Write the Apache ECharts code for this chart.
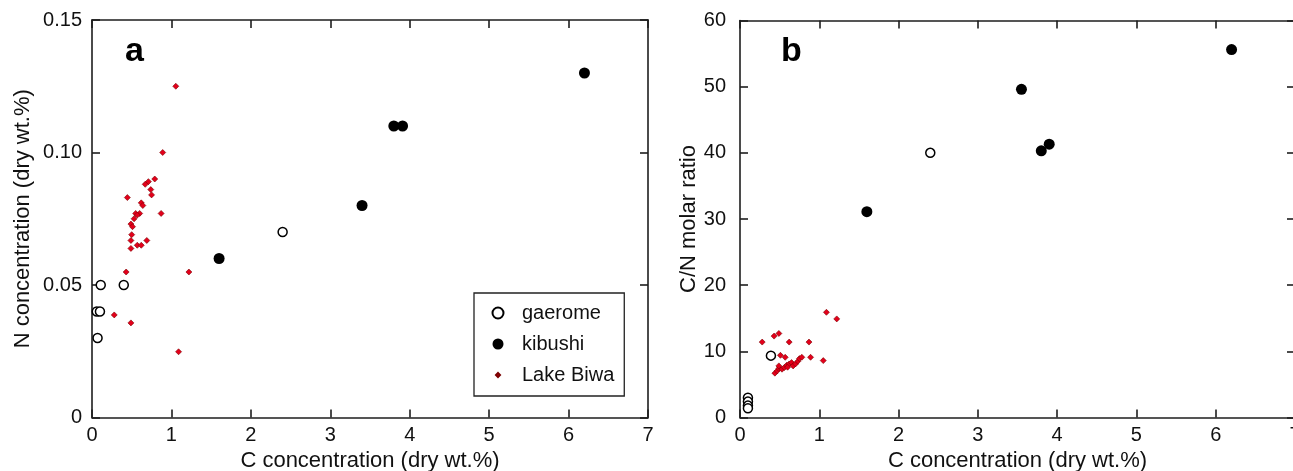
<!DOCTYPE html>
<html>
<head>
<meta charset="utf-8">
<script src="https://cdn.jsdelivr.net/npm/echarts@6/dist/echarts.min.js"></script>
<style>
html,body{margin:0;padding:0;background:#fff;}
#chart{width:1293px;height:471px;}
</style>
</head>
<body>
<div id="chart"></div>
<script>
// ---- Data (C concentration in dry wt.%) ----
// Panel a: N concentration (dry wt.%)
const gaeromeA = [[0.07,0.03],[0.06,0.04],[0.10,0.04],[0.11,0.05],[0.40,0.05],[2.40,0.07]];
const kibushiA = [[1.60,0.06],[3.40,0.08],[3.80,0.11],[3.91,0.11],[6.20,0.13]];
const biwaA = [
  [1.055,0.125],[0.89,0.100],[0.79,0.090],[0.71,0.089],[0.67,0.088],[0.74,0.086],
  [0.75,0.084],[0.445,0.083],[0.62,0.081],[0.64,0.080],[0.87,0.077],[0.60,0.077],
  [0.55,0.077],[0.57,0.0764],[0.53,0.075],[0.49,0.073],[0.51,0.072],[0.50,0.069],
  [0.49,0.0668],[0.69,0.0668],[0.57,0.065],[0.62,0.065],[0.49,0.0638],[0.43,0.0549],
  [1.22,0.0549],[0.28,0.0387],[0.49,0.0357],[1.09,0.0248]
];
// Panel b: C/N molar ratio
const gaeromeB = [[0.10,3.0],[0.10,2.4],[0.10,1.8],[0.10,1.4],[0.39,9.35],[2.40,40.0]];
const kibushiB = [[1.60,31.1],[3.55,49.6],[3.80,40.3],[3.90,41.3],[6.20,55.6]];
const biwaB = [
  [1.09,15.9],[1.22,14.9],[0.28,11.4],[0.43,12.3],[0.49,12.7],[0.62,11.4],[0.87,11.4],
  [0.89,9.1],[1.05,8.6],[0.51,9.4],[0.57,9.1],[0.44,6.7],[0.47,7.05],[0.49,7.4],
  [0.49,7.8],[0.53,7.3],[0.56,7.55],[0.59,7.9],[0.62,8.1],[0.65,8.3],[0.67,7.8],
  [0.70,8.1],[0.73,8.5],[0.75,8.9],[0.78,9.1],[0.60,7.6]
];
// Axis settings / labels
const xTitle = 'C concentration (dry wt.%)';
const yTitleA = 'N concentration (dry wt.%)';
const yTitleB = 'C/N molar ratio';
const panelLabels = ['a','b'];

const FONT = '"Liberation Sans", Arial, Helvetica, sans-serif';
const AX = '#1e1e1e';
const lineStyle = {color: AX, width: 1.6};

function xAx(grid, pos, showLabel) {
  return {
    gridIndex: grid, type: 'value', position: pos, min: 0, max: 7, interval: 1,
    axisLine: {show: true, onZero: false, lineStyle},
    axisTick: {show: true, inside: true, length: 8, lineStyle},
    axisLabel: {show: showLabel, fontSize: 20, color: '#111', fontFamily: FONT, margin: 8},
    splitLine: {show: false},
    name: showLabel ? xTitle : '', nameLocation: 'middle', nameGap: 30,
    nameTextStyle: {fontSize: 22, color: '#111', fontFamily: FONT}
  };
}
function yAx(grid, pos, showLabel, max, interval, fmt, title, gap, margin) {
  return {
    gridIndex: grid, type: 'value', position: pos, min: 0, max: max, interval: interval,
    axisLine: {show: true, onZero: false, lineStyle},
    axisTick: {show: true, inside: true, length: 8, lineStyle},
    axisLabel: {show: showLabel, fontSize: 20, color: '#111', fontFamily: FONT, margin: margin, formatter: fmt},
    splitLine: {show: false},
    name: showLabel ? title : '', nameLocation: 'middle', nameGap: gap, nameRotate: 90,
    nameTextStyle: {fontSize: 22, color: '#111', fontFamily: FONT}
  };
}
const fmtA = v => v === 0 ? '0' : v.toFixed(2);
const fmtB = v => String(Math.round(v));

const gaeromeStyle = {color: '#ffffff', borderColor: '#000', borderWidth: 1.5, opacity: 1};
const kibushiStyle = {color: '#000000', opacity: 1};
const biwaStyle = {color: '#e3001b', borderColor: '#7a0000', borderWidth: 0.6, opacity: 1};

function series(xi, yi, g, k, b) {
  return [
    {name: 'gaerome', type: 'scatter', xAxisIndex: xi, yAxisIndex: yi, data: g, symbol: 'circle', symbolSize: 9, itemStyle: gaeromeStyle, z: 3},
    {name: 'kibushi', type: 'scatter', xAxisIndex: xi, yAxisIndex: yi, data: k, symbol: 'circle', symbolSize: 11, itemStyle: kibushiStyle, z: 3},
    {name: 'Lake Biwa', type: 'scatter', xAxisIndex: xi, yAxisIndex: yi, data: b, symbol: 'diamond', symbolSize: 6, itemStyle: biwaStyle, z: 4}
  ];
}

const chart = echarts.init(document.getElementById('chart'), null, {renderer: 'canvas'});
chart.setOption({
  animation: false,
  backgroundColor: '#ffffff',
  textStyle: {fontFamily: FONT},
  title: [
    {text: panelLabels[0], left: 120, top: 30, textStyle: {fontSize: 34, fontWeight: 'bold', color: '#000', fontFamily: FONT}},
    {text: panelLabels[1], left: 776, top: 30, textStyle: {fontSize: 34, fontWeight: 'bold', color: '#000', fontFamily: FONT}}
  ],
  grid: [
    {left: 92, top: 20, width: 556, height: 397.5, containLabel: false, outerBoundsMode: 'none'},
    {left: 740, top: 20.5, width: 555, height: 397, containLabel: false, outerBoundsMode: 'none'}
  ],
  xAxis: [xAx(0, 'bottom', true), xAx(0, 'top', false), xAx(1, 'bottom', true), xAx(1, 'top', false)],
  yAxis: [
    yAx(0, 'left', true, 0.15, 0.05, fmtA, yTitleA, 58, 10),
    yAx(0, 'right', false, 0.15, 0.05, fmtA, '', 0, 10),
    yAx(1, 'left', true, 60, 10, fmtB, yTitleB, 38, 14),
    yAx(1, 'right', false, 60, 10, fmtB, '', 0, 14)
  ],
  legend: {
    orient: 'vertical', left: 474, top: 293,
    padding: [10, 10, 11, 4],
    itemGap: 11, itemWidth: 38, itemHeight: 11,
    borderColor: '#222', borderWidth: 1.3,
    selectedMode: false,
    textStyle: {fontSize: 20, color: '#111', fontFamily: FONT},
    data: [
      {name: 'gaerome', icon: 'circle'},
      {name: 'kibushi', icon: 'circle'},
      {name: 'Lake Biwa', icon: 'path://M-19,-5.5 M19,5.5 M0,-2 L2,0 L0,2 L-2,0 Z'}
    ]
  },
  series: [].concat(series(0, 0, gaeromeA, kibushiA, biwaA), series(2, 2, gaeromeB, kibushiB, biwaB))
});
</script>
</body>
</html>
